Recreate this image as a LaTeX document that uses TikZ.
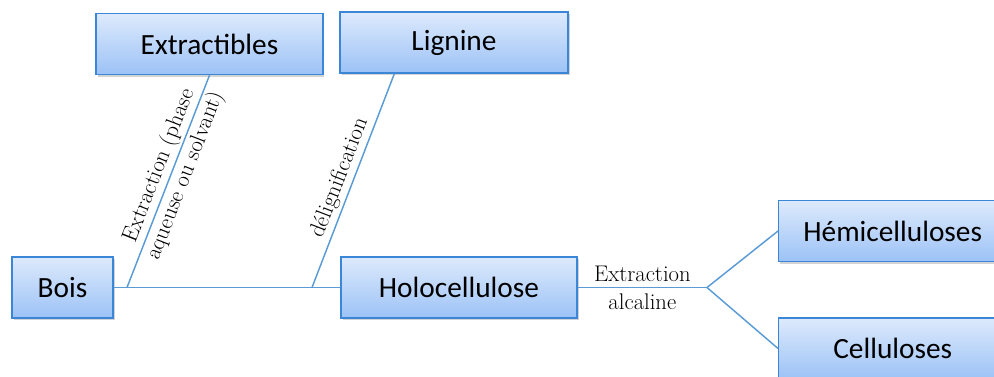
\documentclass[tikz,border=0pt]{standalone}
\usepackage{fontspec}
\newfontfamily\boxfont{Carlito}
\usetikzlibrary{shadows, calc}
\definecolor{boxedge}{HTML}{3C86D8}
\definecolor{boxtop}{HTML}{DDEAFC}
\definecolor{boxbot}{HTML}{9CC2F6}
\definecolor{linkblue}{HTML}{5B9BD5}

\begin{document}
\begin{tikzpicture}[
  x=0.75pt, y=-0.75pt,
  part/.style={draw=boxedge, line width=1.1pt, top color=boxtop, bottom color=boxbot,
               minimum height=45.75pt, inner sep=0pt,
               font=\boxfont\fontsize{22}{26}\selectfont,
               drop shadow={shadow xshift=1.2pt, shadow yshift=-1.8pt, opacity=0.35}},
  link/.style={draw=linkblue, line width=1.1pt},
  lbl/.style={font=\fontsize{17}{21}\selectfont, align=center, inner sep=2pt},
]
\useasboundingbox (0,0) rectangle (994,376);
\clip (0,0) rectangle (994,376);

% boxes
\node[part, minimum width=170pt] (extr) at (209.5,44) {Extractibles};
\node[part, minimum width=171pt] (lign) at (454,42.5) {Lignine};
\node[part, minimum width=75.75pt] (bois) at (62.5,287.5) {Bois};
\node[part, minimum width=177pt] (holo) at (459,287.5) {Holocellulose};
\node[part, minimum width=171pt, anchor=west] (hemi) at (778,231) {Hémicelluloses};
\node[part, minimum width=171pt, anchor=west] (cell) at (778,348.5) {Celluloses};

% branch points on the main line
\coordinate (extfoot) at (127,287.5);
\coordinate (delfoot) at (312,287.5);
\coordinate (lignfoot) at ($(lign.south west)!0.24!(lign.south east)$);
\coordinate (fork) at (707,287.5);

\draw[link] (bois) -- (holo);
\draw[link] (extfoot) -- node[lbl, sloped, pos=0.55]
    {Extraction (phase\\aqueuse ou solvant)} (extr.south);
\draw[link] (delfoot) -- node[lbl, sloped, above, pos=0.49] {délignification} (lignfoot);
\draw[link] (holo) -- node[lbl] {Extraction\\alcaline} (fork);
\draw[link] (fork) -- (hemi.west);
\draw[link] (fork) -- (cell.west);

\end{tikzpicture}
\end{document}
